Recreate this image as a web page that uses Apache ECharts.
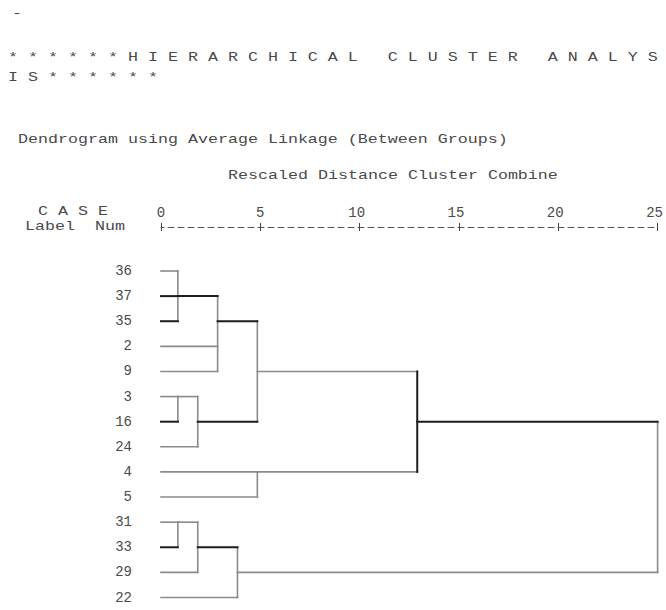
<!DOCTYPE html>
<html>
<head>
<meta charset="utf-8">
<script src="https://cdn.jsdelivr.net/npm/echarts@6/dist/echarts.min.js"></script>
<style>
html,body{margin:0;padding:0;background:#fff;}
#chart{width:666px;height:610px;}
</style>
</head>
<body>
<div id="chart"></div>
<script>
// ---- data ----
const leaves = ['36','37','35','2','9','3','16','24','4','5','31','33','29','22'];
const mergeIds = ['A','B','C','D','E','F','G','H','I','J','K'];
const mergeMembers = [
  ['36','37','35'], ['A','2','9'], ['3','16'], ['C','24'], ['B','D'],
  ['4','5'], ['E','F'], ['31','33'], ['H','29'], ['I','22'], ['G','J']
];
const mergeDistance = [0.85, 2.85, 0.85, 1.85, 4.85, 4.85, 12.9, 0.85, 1.85, 3.85, 25];
const mergeRowLeaf = ['37','35','3','16','9','4','16','31','33','29', null];
const tickValues = [0, 5, 10, 15, 20, 25];

const headerLine1 = '* * * * * * H I E R A R C H I C A L   C L U S T E R   A N A L Y S';
const headerLine2 = 'I S * * * * * *';
const subtitle = 'Dendrogram using Average Linkage (Between Groups)';
const axisTitle = 'Rescaled Distance Cluster Combine';
const caseHead = 'C A S E';
const labelHead = 'Label  Num';

// ---- style constants ----
const darkRowLeaves = ['37','35','16','33'];
const darkVerticalMerges = ['G'];
const MONO = '"Liberation Mono", "DejaVu Sans Mono", monospace';
const TXT = '#4a4a4a';

// ---- build segments from merge tree ----
const node = {};
leaves.forEach((l, i) => { node[l] = { row: i, dist: 0 }; });
const darkRows = darkRowLeaves.map(l => leaves.indexOf(l));
const segs = [];
mergeIds.forEach((id, k) => {
  const d = mergeDistance[k];
  const rows = mergeMembers[k].map(m => {
    const n = node[m];
    segs.push([n.dist, n.row, d, n.row, darkRows.indexOf(n.row) >= 0 ? 1 : 0]);
    return n.row;
  });
  segs.push([d, Math.min(...rows), d, Math.max(...rows), darkVerticalMerges.indexOf(id) >= 0 ? 1 : 0]);
  node[id] = { row: mergeRowLeaf[k] != null ? leaves.indexOf(mergeRowLeaf[k]) : Math.min(...rows), dist: d };
});
segs.sort((a, b) => a[4] - b[4]);

function monoText(str, x, y, size) {
  const adv = size * 0.6;
  return {
    type: 'text', x: x, y: y, scaleX: 10 / adv, silent: true,
    style: { text: str, font: size + 'px ' + MONO, fill: TXT, align: 'left', verticalAlign: 'middle' }
  };
}

const chart = echarts.init(document.getElementById('chart'), null, { renderer: 'svg' });
const axisCommon = {
  type: 'value', position: 'top', offset: 44, min: 0, max: 25, interval: 5,
  splitLine: { show: false }
};
chart.setOption({
  animation: false,
  backgroundColor: '#fff',
  grid: { left: 161, right: 6, top: 271, bottom: 12.5, containLabel: false },
  xAxis: [
    Object.assign({}, axisCommon, {
      axisLine: { show: true, onZero: false, lineStyle: { color: '#555', width: 1, type: [6, 4], dashOffset: 3 } },
      axisTick: { show: true, length: 4, lineStyle: { color: '#444', width: 1 } },
      axisLabel: {
        show: true, margin: 7, fontFamily: MONO, fontSize: 14, color: TXT,
        formatter: v => (tickValues.indexOf(v) < 0 ? '' : (v >= 10 ? '{r|' + v + '}' : String(v))),
        rich: { r: { fontFamily: MONO, fontSize: 14, color: TXT, padding: [0, 6, 0, 0] } }
      }
    }),
    Object.assign({}, axisCommon, {
      axisLine: { show: false, onZero: false },
      axisTick: { show: true, inside: true, length: 4, lineStyle: { color: '#444', width: 1 } },
      axisLabel: { show: false }
    })
  ],
  yAxis: {
    type: 'value', inverse: true, min: 0, max: leaves.length - 1, interval: 1,
    axisLine: { show: false, onZero: false }, axisTick: { show: false }, splitLine: { show: false },
    axisLabel: {
      margin: 29, fontFamily: MONO, fontSize: 14, color: TXT,
      formatter: v => leaves[v] || ''
    }
  },
  graphic: [
    monoText('-', 12, 14, 13),
    monoText(headerLine1, 8, 58, 13),
    monoText(headerLine2, 8, 78, 13),
    monoText(subtitle, 18, 140, 13),
    monoText(axisTitle, 228, 176, 13),
    monoText(caseHead, 38, 212, 13),
    monoText(labelHead, 25, 227, 13)
  ],
  series: [{
    type: 'custom',
    xAxisIndex: 0,
    coordinateSystem: 'cartesian2d',
    encode: { x: [0, 2], y: [1, 3] },
    data: segs,
    clip: false,
    renderItem: function (params, api) {
      const p1 = api.coord([api.value(0), api.value(1)]);
      const p2 = api.coord([api.value(2), api.value(3)]);
      const dark = api.value(4) === 1;
      return {
        type: 'line',
        shape: { x1: p1[0], y1: p1[1], x2: p2[0], y2: p2[1] },
        style: { stroke: dark ? '#1c1c1c' : '#8a8a8a', lineWidth: dark ? 2 : 1.6, lineCap: 'square' }
      };
    }
  }]
});
</script>
</body>
</html>
